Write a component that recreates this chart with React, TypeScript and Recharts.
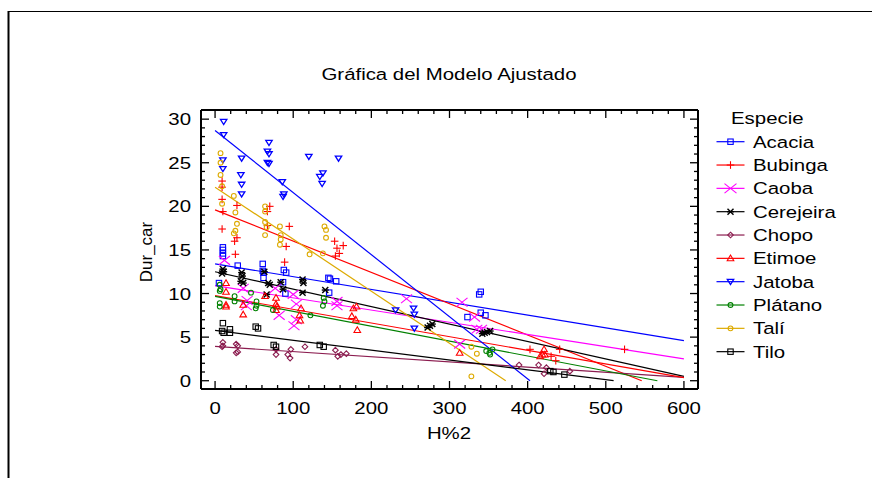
import React from 'react';
import { ScatterChart, Scatter, XAxis, YAxis, ReferenceLine } from 'recharts';

// ---------- data ----------
const species = ['Acacia', 'Bubinga', 'Caoba', 'Cerejeira', 'Chopo', 'Etimoe', 'Jatoba', 'Plátano', 'Talí', 'Tilo'];
const colors = ['#0000FF', '#FF0000', '#FF00FF', '#000000', '#8B1C4F', '#FF0000', '#0000FF', '#008000', '#DDAA00', '#000000'];
const markerKinds = ['square', 'plus', 'cross', 'star', 'diamond', 'triUp', 'triDown', 'circle', 'circle', 'square'];

const acacia = [[10, 15.3], [10, 15.0], [10, 14.6], [10, 14.3], [5, 11.2], [29, 13.2], [61, 13.4], [61, 12.6], [62, 12.4], [62, 11.8], [88, 12.7], [91, 12.4], [87, 11.3], [90, 10.0], [145, 11.8], [147, 11.7], [155, 11.4], [146, 10.1], [340, 10.2], [338, 9.9], [323, 7.3], [340, 7.8], [346, 7.5]];
const bubinga = [[9, 22.9], [9, 22.2], [9, 20.8], [10, 19.4], [9, 17.4], [28, 20.1], [28, 16.4], [25, 16.0], [26, 14.5], [70, 20.0], [67, 19.4], [67, 17.8], [95, 17.7], [91, 15.4], [89, 13.6], [153, 16.0], [156, 15.2], [164, 15.5], [159, 14.6], [154, 14.3], [403, 3.6], [441, 3.6], [430, 2.8], [436, 2.3], [524, 3.6]];
const caoba = [[12, 13.8], [36, 10.6], [41, 9.2], [40, 8.6], [77, 10.6], [82, 7.5], [100, 9.9], [104, 8.8], [104, 7.0], [101, 6.3], [156, 9.1], [156, 8.6], [245, 9.4], [316, 9.0], [332, 7.3], [313, 4.2], [335, 5.9], [341, 5.9]];
const cerejeira = [[10, 12.8], [11, 12.5], [9, 12.3], [34, 12.4], [35, 12.0], [33, 11.4], [36, 11.2], [63, 12.5], [68, 11.2], [70, 11.0], [66, 9.9], [84, 11.3], [87, 10.5], [112, 11.6], [113, 11.2], [112, 10.1], [141, 10.4], [275, 6.3], [278, 6.5], [272, 6.1], [342, 5.4], [345, 5.5], [348, 5.6], [352, 5.7]];
const chopo = [[10, 4.4], [10, 4.0], [9, 3.9], [27, 4.2], [29, 4.0], [27, 3.2], [29, 3.3], [78, 3.6], [78, 3.0], [93, 3.0], [96, 2.6], [97, 3.6], [115, 3.9], [154, 3.5], [157, 2.8], [161, 3.0], [168, 3.1], [389, 1.8], [414, 1.8], [424, 1.5], [421, 0.8], [454, 1.1]];
const etimoe = [[14, 11.2], [14, 10.2], [14, 8.7], [14, 8.5], [36, 8.7], [36, 7.6], [64, 9.7], [78, 9.5], [78, 8.8], [79, 8.5], [78, 8.1], [110, 8.3], [108, 7.5], [109, 6.9], [177, 8.3], [181, 8.5], [175, 7.4], [180, 7.0], [182, 5.8], [313, 3.2], [421, 3.6], [419, 3.0], [422, 3.0], [416, 2.8]];
const jatoba = [[11, 29.7], [11, 28.2], [10, 25.3], [10, 24.3], [33, 23.6], [34, 25.5], [34, 22.5], [34, 21.4], [69, 27.3], [67, 26.3], [69, 26.0], [67, 25.0], [69, 24.9], [86, 22.8], [88, 21.4], [87, 21.1], [120, 25.7], [138, 23.8], [134, 23.4], [137, 22.6], [158, 25.5], [231, 8.1], [254, 8.3], [255, 7.6], [255, 6.0]];
const platano = [[6, 11.0], [7, 10.5], [6, 10.3], [6, 8.9], [6, 8.5], [25, 9.7], [25, 9.1], [46, 10.1], [53, 9.1], [53, 8.6], [52, 8.3], [74, 8.1], [122, 7.5], [139, 9.5], [140, 9.1], [138, 8.6], [347, 3.4], [351, 3.2], [352, 3.0], [355, 3.6]];
const tali = [[7, 26.1], [7, 25.0], [7, 23.6], [9, 22.3], [9, 20.3], [24, 21.2], [26, 19.3], [28, 18.0], [26, 17.2], [24, 16.9], [64, 20.0], [64, 19.4], [64, 18.2], [66, 17.6], [64, 16.7], [83, 17.7], [84, 16.7], [84, 16.2], [83, 15.6], [121, 14.5], [140, 17.7], [142, 17.3], [142, 16.4], [138, 14.6], [328, 3.9], [335, 3.1], [328, 0.5]];
const tilo = [[10, 6.6], [9, 5.7], [11, 5.5], [19, 5.9], [19, 5.5], [52, 6.2], [55, 6.0], [75, 4.1], [78, 3.9], [134, 4.1], [139, 3.9], [429, 1.1], [433, 1.0], [447, 0.7]];
const seriesPoints = [acacia, bubinga, caoba, cerejeira, chopo, etimoe, jatoba, platano, tali, tilo];

// fitted lines: [x0, y0, x1, y1]
const fittedLines = [
  [0, 13.4, 600, 4.6],
  [0, 19.6, 546, 0],
  [0, 10.9, 600, 2.5],
  [0, 12.5, 600, 0.5],
  [0, 3.93, 600, 0.38],
  [0, 9.75, 600, 0.35],
  [0, 28.7, 403, 0],
  [0, 9.67, 566, 0],
  [0, 22.2, 372, 0],
  [0, 5.77, 510, 0],
];

const xMajor = [0, 100, 200, 300, 400, 500, 600];
const yMajor = [0, 5, 10, 15, 20, 25, 30];
const xTicks: number[] = [];
for (let v = 0; v <= 600; v += 20) xTicks.push(v);
const yTicks: number[] = [];
for (let v = 0; v <= 30; v += 1) yTicks.push(v);

const FONT = '"Liberation Sans", Arial, sans-serif';
const SX = 1.2;

// ---------- markers ----------
function Mark({ kind, color, cx, cy, big }: any) {
  if (cx == null || cy == null) return null;
  const sw = 1.1;
  const common = { fill: 'none', stroke: color, strokeWidth: sw };
  switch (kind) {
    case 'square':
      return <rect x={cx - 2.7} y={cy - 2.7} width={5.4} height={5.4} {...common} />;
    case 'plus':
      return (
        <g {...common}>
          <line x1={cx - 3.8} y1={cy} x2={cx + 3.8} y2={cy} />
          <line x1={cx} y1={cy - 3.8} x2={cx} y2={cy + 3.8} />
        </g>
      );
    case 'cross': {
      const r = big ? 6 : 5.5;
      return (
        <g {...common}>
          <line x1={cx - r} y1={cy - r * 0.8} x2={cx + r} y2={cy + r * 0.8} />
          <line x1={cx - r} y1={cy + r * 0.8} x2={cx + r} y2={cy - r * 0.8} />
        </g>
      );
    }
    case 'star':
      return (
        <g {...common} strokeWidth={1.4}>
          <line x1={cx - 3.5} y1={cy} x2={cx + 3.5} y2={cy} />
          <line x1={cx - 3} y1={cy - 3} x2={cx + 3} y2={cy + 3} />
          <line x1={cx - 3} y1={cy + 3} x2={cx + 3} y2={cy - 3} />
        </g>
      );
    case 'diamond':
      return <polygon points={`${cx},${cy - 2.8} ${cx + 2.8},${cy} ${cx},${cy + 2.8} ${cx - 2.8},${cy}`} {...common} />;
    case 'triUp':
      return <polygon points={`${cx},${cy - 3.3} ${cx + 3.3},${cy + 2.4} ${cx - 3.3},${cy + 2.4}`} {...common} />;
    case 'triDown':
      return <polygon points={`${cx - 3.2},${cy - 2.3} ${cx + 3.2},${cy - 2.3} ${cx},${cy + 2.8}`} {...common} strokeWidth={1.3} />;
    case 'circle':
      return <circle cx={cx} cy={cy} r={2.4} {...common} />;
    default:
      return null;
  }
}

// ---------- ticks ----------
function XBottomTick({ x, y, payload }: any) {
  const major = xMajor.includes(payload.value);
  return (
    <g>
      <line x1={x} y1={y} x2={x} y2={y - (major ? 8 : 4)} stroke="#000" strokeWidth={1.3} />
      {major && (
        <text transform={`translate(${x} ${y + 25}) scale(${SX} 1)`} textAnchor="middle" fontSize={17} fontFamily={FONT} fill="#000">
          {payload.value}
        </text>
      )}
    </g>
  );
}
function XTopTick({ x, y, payload }: any) {
  const major = xMajor.includes(payload.value);
  return <line x1={x} y1={y} x2={x} y2={y + (major ? 8 : 4)} stroke="#000" strokeWidth={1.3} />;
}
function YLeftTick({ x, y, payload }: any) {
  const major = yMajor.includes(payload.value);
  return (
    <g>
      <line x1={x} y1={y} x2={x + (major ? 8 : 4)} y2={y} stroke="#000" strokeWidth={1.3} />
      {major && (
        <text transform={`translate(${x - 10} ${y + 6}) scale(${SX} 1)`} textAnchor="end" fontSize={17} fontFamily={FONT} fill="#000">
          {payload.value}
        </text>
      )}
    </g>
  );
}
function YRightTick({ x, y, payload }: any) {
  const major = yMajor.includes(payload.value);
  return <line x1={x} y1={y} x2={x - (major ? 8 : 4)} y2={y} stroke="#000" strokeWidth={1.3} />;
}

export default function App() {
  const W = 874;
  const H = 479;
  return (
    <div style={{ position: 'absolute', left: 0, top: 0, width: W, height: H, background: '#fff' }}>
      <ScatterChart width={W} height={H} margin={{ top: 100, right: 166, bottom: 50, left: 141 }}>
        <XAxis
          dataKey="x" type="number" domain={[-18, 618]} ticks={xTicks} interval={0}
          height={40} tickSize={0} tickMargin={0} tick={<XBottomTick />}
          axisLine={{ stroke: '#000', strokeWidth: 2 }} allowDataOverflow
        />
        <XAxis
          xAxisId="top" orientation="top" dataKey="x" type="number" domain={[-18, 618]} ticks={xTicks} interval={0}
          height={10} tickSize={0} tickMargin={0} tick={<XTopTick />}
          axisLine={{ stroke: '#000', strokeWidth: 2 }} allowDataOverflow
        />
        <YAxis
          dataKey="y" type="number" domain={[-0.95, 31.05]} ticks={yTicks} interval={0}
          width={60} tickSize={0} tickMargin={0} tick={<YLeftTick />}
          axisLine={{ stroke: '#000', strokeWidth: 2 }} allowDataOverflow
        />
        <YAxis
          yAxisId="right" orientation="right" dataKey="y" type="number" domain={[-0.95, 31.05]} ticks={yTicks} interval={0}
          width={10} tickSize={0} tickMargin={0} tick={<YRightTick />}
          axisLine={{ stroke: '#000', strokeWidth: 2 }} allowDataOverflow
        />
        {fittedLines.map((l, i) => (
          <ReferenceLine
            key={'fit' + i}
            segment={[{ x: l[0], y: l[1] }, { x: l[2], y: l[3] }]}
            stroke={colors[i]}
            strokeWidth={1.2}
            ifOverflow="visible"
          />
        ))}
        {seriesPoints.map((pts, i) => (
          <Scatter
            key={species[i]}
            name={species[i]}
            data={pts.map((p) => ({ x: p[0], y: p[1] }))}
            isAnimationActive={false}
            shape={(p: any) => <Mark kind={markerKinds[i]} color={colors[i]} cx={p.cx} cy={p.cy} />}
          />
        ))}
      </ScatterChart>
      <svg width={W} height={H} style={{ position: 'absolute', left: 0, top: 0, pointerEvents: 'none' }}>
        {/* outer frame */}
        <line x1={8.5} y1={11} x2={8.5} y2={478} stroke="#000" strokeWidth={2} />
        <line x1={8} y1={11.5} x2={872} y2={11.5} stroke="#000" strokeWidth={1.2} />
        {/* title */}
        <text transform={`translate(449 80) scale(${SX} 1)`} textAnchor="middle" fontSize={17} fontFamily={FONT} fill="#000">
          Gráfica del Modelo Ajustado
        </text>
        {/* axis labels */}
        <text transform={`translate(449 439) scale(${SX} 1)`} textAnchor="middle" fontSize={17} fontFamily={FONT} fill="#000">
          H%2
        </text>
        <text transform="translate(152 252) rotate(-90)" textAnchor="middle" fontSize={17} fontFamily={FONT} fill="#000">
          Dur_car
        </text>
        {/* legend */}
        <text transform={`translate(731 124) scale(${SX} 1)`} fontSize={17} fontFamily={FONT} fill="#000">
          Especie
        </text>
        {species.map((s, i) => {
          const cy = 141.7 + i * 23.33;
          return (
            <g key={s}>
              <line x1={716.5} y1={cy} x2={744.5} y2={cy} stroke={colors[i]} strokeWidth={1.2} />
              <Mark kind={markerKinds[i]} color={colors[i]} cx={730.5} cy={cy} big />
              <text transform={`translate(753 ${cy + 6}) scale(${SX} 1)`} fontSize={17} fontFamily={FONT} fill="#000">
                {s}
              </text>
            </g>
          );
        })}
      </svg>
    </div>
  );
}
